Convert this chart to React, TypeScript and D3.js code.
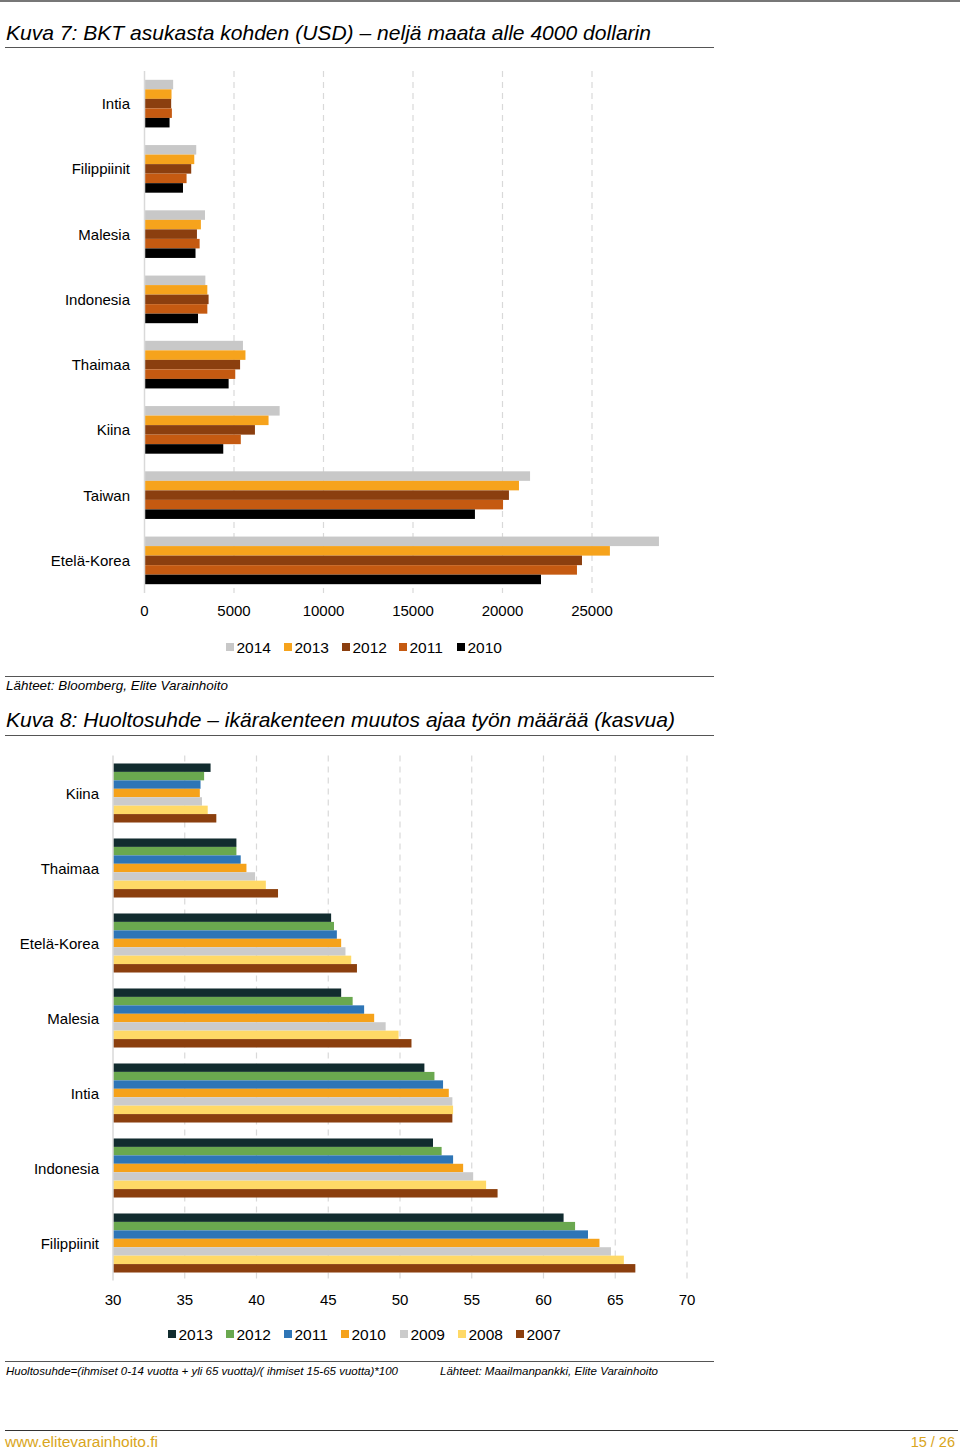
import React from "react";
import * as d3 from "d3";

const gdpCountries = ["Intia", "Filippiinit", "Malesia", "Indonesia", "Thaimaa", "Kiina", "Taiwan", "Etelä-Korea"];
const gdpYears = ["2014", "2013", "2012", "2011", "2010"];
const gdp2014 = [1600, 2890, 3380, 3400, 5500, 7550, 21540, 28740];
const gdp2013 = [1510, 2780, 3150, 3510, 5640, 6930, 20920, 26000];
const gdp2012 = [1490, 2610, 2930, 3580, 5340, 6170, 20360, 24440];
const gdp2011 = [1530, 2350, 3080, 3510, 5070, 5380, 20030, 24160];
const gdp2010 = [1400, 2150, 2850, 2990, 4700, 4400, 18460, 22150];
const gdpColors = ["#c8c8c8", "#f6a31c", "#8b3f0f", "#c55a11", "#000000"];
const gdpTicks = [0, 5000, 10000, 15000, 20000, 25000];

const depCountries = ["Kiina", "Thaimaa", "Etelä-Korea", "Malesia", "Intia", "Indonesia", "Filippiinit"];
const depYears = ["2013", "2012", "2011", "2010", "2009", "2008", "2007"];
const dep2013 = [36.8, 38.6, 45.2, 45.9, 51.7, 52.3, 61.4];
const dep2012 = [36.35, 38.6, 45.4, 46.7, 52.4, 52.9, 62.2];
const dep2011 = [36.1, 38.9, 45.6, 47.5, 53.0, 53.7, 63.1];
const dep2010 = [36.05, 39.3, 45.9, 48.2, 53.4, 54.4, 63.9];
const dep2009 = [36.2, 39.9, 46.2, 49.0, 53.65, 55.1, 64.7];
const dep2008 = [36.6, 40.65, 46.6, 49.9, 53.7, 56.0, 65.6];
const dep2007 = [37.2, 41.5, 47.0, 50.8, 53.65, 56.8, 66.4];
const depColors = ["#122c2f", "#6aa84f", "#2e75b6", "#f5a21b", "#cbcbcb", "#ffd966", "#8b3f0e"];
const depTicks = [30, 35, 40, 45, 50, 55, 60, 65, 70];

const FONT = "'Liberation Sans', Arial, sans-serif";

type ChartProps = {
  cats: string[];
  years: string[];
  series: number[][];
  colors: string[];
  ticks: number[];
  gridTicks: number[];
  domain: [number, number];
  xRange: [number, number];
  yRange: [number, number];
  padIn: number;
  padOut: number;
  labelX: number;
  tickY: number;
  legendY: number;
  legendX: number[];
};

function BarChart(p: ChartProps) {
  const x = d3.scaleLinear().domain(p.domain).range(p.xRange);
  const y = d3.scaleBand<string>().domain(p.cats).range(p.yRange).paddingInner(p.padIn).paddingOuter(p.padOut);
  const inner = d3.scaleBand<string>().domain(p.years).range([0, y.bandwidth()]);
  const [y0, y1] = p.yRange;
  return (
    <g>
      {p.gridTicks.map((t) => (
        <line key={"g" + t} x1={x(t)} x2={x(t)} y1={y0} y2={y1} stroke="#d9d9d9" strokeWidth={1.2} strokeDasharray="6,5" />
      ))}
      {p.cats.map((c, ci) => (
        <g key={c}>
          {p.years.map((yr, si) => (
            <rect
              key={yr}
              x={x(p.domain[0])}
              y={(y(c) as number) + (inner(yr) as number)}
              width={x(p.series[si][ci]) - x(p.domain[0])}
              height={inner.bandwidth()}
              fill={p.colors[si]}
            />
          ))}
          <text x={p.labelX} y={(y(c) as number) + y.bandwidth() / 2} textAnchor="end" dominantBaseline="central" fontSize={15} fontFamily={FONT} fill="#000">
            {c}
          </text>
        </g>
      ))}
      <line x1={x(p.domain[0])} x2={x(p.domain[0])} y1={y0} y2={y1} stroke="#d9d9d9" strokeWidth={1.5} />
      {p.ticks.map((t) => (
        <text key={"t" + t} x={x(t)} y={p.tickY} textAnchor="middle" dominantBaseline="central" fontSize={15} fontFamily={FONT} fill="#000">
          {t}
        </text>
      ))}
      {p.years.map((yr, si) => (
        <g key={"l" + yr}>
          <rect x={p.legendX[si]} y={p.legendY - 4} width={8} height={8} fill={p.colors[si]} />
          <text x={p.legendX[si] + 10.5} y={p.legendY} dominantBaseline="central" fontSize={15.5} fontFamily={FONT} fill="#000">
            {yr}
          </text>
        </g>
      ))}
    </g>
  );
}

export default function App() {
  return (
    <svg width={960} height={1453} style={{ position: "absolute", left: 0, top: 0, background: "#fff" }}>
      <rect x={0} y={0} width={960} height={1453} fill="#fff" />
      <line x1={0} x2={960} y1={1} y2={1} stroke="#777" strokeWidth={2} />

      <text x={6} y={40} fontSize={21} fontStyle="italic" fontFamily={FONT} fill="#000" textLength={645} lengthAdjust="spacingAndGlyphs">
        Kuva 7: BKT asukasta kohden (USD) – neljä maata alle 4000 dollarin
      </text>
      <line x1={5} x2={714} y1={47.5} y2={47.5} stroke="#555" strokeWidth={1} />

      <BarChart
        cats={gdpCountries}
        years={gdpYears}
        series={[gdp2014, gdp2013, gdp2012, gdp2011, gdp2010]}
        colors={gdpColors}
        ticks={gdpTicks}
        gridTicks={gdpTicks.slice(1)}
        domain={[0, 30000]}
        xRange={[144.5, 681.5]}
        yRange={[71, 593]}
        padIn={0.27}
        padOut={0.135}
        labelX={130}
        tickY={610}
        legendY={647}
        legendX={[226, 284, 342, 399, 457]}
      />

      <line x1={5} x2={714} y1={676.5} y2={676.5} stroke="#555" strokeWidth={1} />
      <text x={6} y={689.5} fontSize={13.3} fontStyle="italic" fontFamily={FONT} fill="#000" textLength={222} lengthAdjust="spacingAndGlyphs">
        Lähteet: Bloomberg, Elite Varainhoito
      </text>

      <text x={6} y={727} fontSize={21} fontStyle="italic" fontFamily={FONT} fill="#000" textLength={669} lengthAdjust="spacingAndGlyphs">
        Kuva 8: Huoltosuhde – ikärakenteen muutos ajaa työn määrää (kasvua)
      </text>
      <line x1={5} x2={714} y1={735.5} y2={735.5} stroke="#555" strokeWidth={1} />

      <BarChart
        cats={depCountries}
        years={depYears}
        series={[dep2013, dep2012, dep2011, dep2010, dep2009, dep2008, dep2007]}
        colors={depColors}
        ticks={depTicks}
        gridTicks={depTicks.slice(1)}
        domain={[30, 70]}
        xRange={[113, 687]}
        yRange={[755.5, 1280.5]}
        padIn={0.213}
        padOut={0.1065}
        labelX={99}
        tickY={1299}
        legendY={1334}
        legendX={[168, 226, 284, 341, 400, 458, 516]}
      />

      <line x1={5} x2={714} y1={1361.5} y2={1361.5} stroke="#555" strokeWidth={1} />
      <text x={6} y={1375} fontSize={11.5} fontStyle="italic" fontFamily={FONT} fill="#000" textLength={392} lengthAdjust="spacingAndGlyphs">
        Huoltosuhde=(ihmiset 0-14 vuotta + yli 65 vuotta)/( ihmiset 15-65 vuotta)*100
      </text>
      <text x={440} y={1375} fontSize={11.5} fontStyle="italic" fontFamily={FONT} fill="#000" textLength={218} lengthAdjust="spacingAndGlyphs">
        Lähteet: Maailmanpankki, Elite Varainhoito
      </text>

      <line x1={5} x2={958} y1={1430.5} y2={1430.5} stroke="#333" strokeWidth={1} />
      <text x={5} y={1447} fontSize={14} fontFamily={FONT} fill="#d9a520" textLength={153} lengthAdjust="spacingAndGlyphs">
        www.elitevarainhoito.fi
      </text>
      <text x={955} y={1447} textAnchor="end" fontSize={14.5} fontFamily={FONT} fill="#d9a520">
        15 / 26
      </text>
    </svg>
  );
}
